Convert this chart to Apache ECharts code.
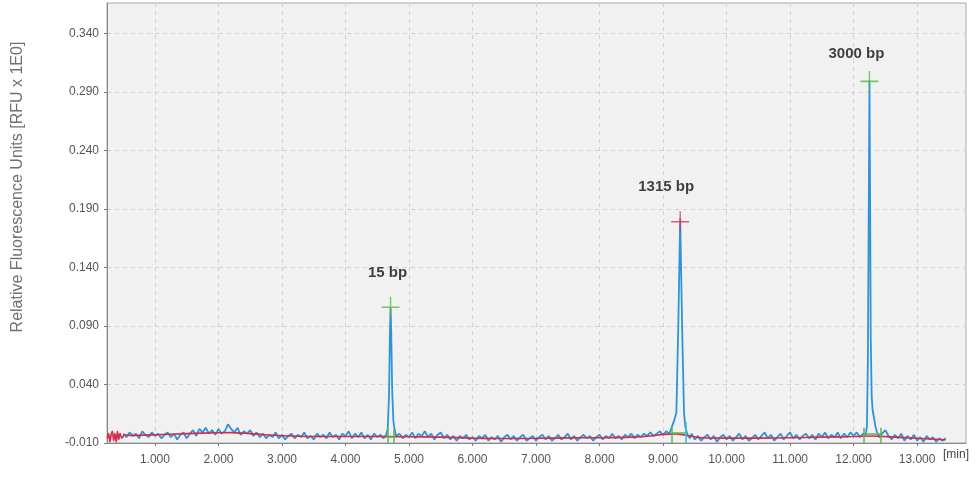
<!DOCTYPE html>
<html><head><meta charset="utf-8">
<script src="https://cdn.jsdelivr.net/npm/echarts@6/dist/echarts.min.js"></script>
<style>html,body{margin:0;padding:0;background:#fff}#c{width:979px;height:478px}</style>
</head><body><div id="c"></div>
<script>
// ---- data ----
const xTickValues = [1,2,3,4,5,6,7,8,9,10,11,12,13];
const yTickValues = [-0.010,0.040,0.090,0.140,0.190,0.240,0.290,0.340];
const xRange = [0.245, 13.77];
const yRange = [-0.010, 0.366];

// raw electropherogram trace [time min, RFU]
const blueTrace = [
[0.50,-0.002],[0.55,-0.005],[0.60,-0.001],[0.65,-0.004],[0.70,-0.002],[0.75,-0.006],[0.80,0.000],[0.85,-0.003],[0.90,-0.005],[0.95,-0.001],
[1.00,-0.004],[1.05,-0.002],[1.10,-0.006],[1.15,-0.003],[1.20,-0.001],[1.25,-0.005],[1.30,-0.002],[1.35,-0.007],[1.40,-0.003],[1.45,-0.001],
[1.50,-0.006],[1.55,-0.002],[1.60,0.001],[1.65,-0.004],[1.70,0.002],[1.75,-0.001],[1.80,0.003],[1.85,-0.002],[1.90,0.001],[1.95,-0.003],
[2.00,0.002],[2.05,-0.002],[2.10,0.000],[2.15,0.006],[2.20,0.002],[2.25,-0.001],[2.30,0.003],[2.35,-0.003],[2.40,0.000],[2.45,-0.002],
[2.50,0.001],[2.55,-0.004],[2.60,-0.001],[2.65,-0.005],[2.70,-0.002],[2.75,-0.006],[2.80,-0.003],[2.85,-0.005],[2.90,-0.001],[2.95,-0.006],
[3.00,-0.003],[3.05,-0.007],[3.10,-0.004],[3.15,-0.002],[3.20,-0.006],[3.25,-0.003],[3.30,-0.005],[3.35,-0.001],[3.40,-0.006],[3.45,-0.004],
[3.50,-0.007],[3.55,-0.002],[3.60,-0.005],[3.65,-0.003],[3.70,-0.006],[3.75,-0.001],[3.80,-0.005],[3.85,-0.003],[3.90,-0.007],[3.95,-0.002],
[4.00,-0.004],[4.05,0.000],[4.10,-0.006],[4.15,-0.002],[4.20,-0.005],[4.25,-0.001],[4.30,-0.006],[4.35,-0.003],[4.40,-0.007],[4.45,-0.002],
[4.50,-0.005],[4.55,-0.003],[4.60,-0.006],[4.64,-0.003],[4.665,0.002],[4.685,0.030],[4.70,0.085],[4.71,0.106],[4.72,0.085],[4.735,0.035],
[4.755,0.008],[4.78,0.000],[4.80,-0.004],[4.85,-0.002],[4.90,-0.006],[4.95,-0.003],
[5.00,-0.005],[5.05,-0.001],[5.10,-0.006],[5.15,-0.002],[5.20,-0.004],[5.25,0.000],[5.30,-0.005],[5.35,-0.002],[5.40,-0.007],[5.45,-0.003],
[5.50,-0.001],[5.55,-0.006],[5.60,-0.003],[5.65,-0.007],[5.70,-0.004],[5.75,-0.008],[5.80,-0.004],[5.85,-0.006],[5.90,-0.003],[5.95,-0.007],
[6.00,-0.005],[6.05,-0.008],[6.10,-0.004],[6.15,-0.006],[6.20,-0.003],[6.25,-0.008],[6.30,-0.005],[6.35,-0.007],[6.40,-0.004],[6.45,-0.009],
[6.50,-0.005],[6.55,-0.003],[6.60,-0.007],[6.65,-0.004],[6.70,-0.008],[6.75,-0.005],[6.80,-0.003],[6.85,-0.008],[6.90,-0.006],[6.95,-0.004],
[7.00,-0.008],[7.05,-0.005],[7.10,-0.003],[7.15,-0.007],[7.20,-0.004],[7.25,-0.008],[7.30,-0.006],[7.35,-0.003],[7.40,-0.007],[7.45,-0.005],
[7.50,-0.002],[7.55,-0.007],[7.60,-0.004],[7.65,-0.008],[7.70,-0.005],[7.75,-0.003],[7.80,-0.006],[7.85,-0.004],[7.90,-0.008],[7.95,-0.005],
[8.00,-0.003],[8.05,-0.007],[8.10,-0.004],[8.15,-0.006],[8.20,-0.002],[8.25,-0.006],[8.30,-0.004],[8.35,-0.007],[8.40,-0.003],[8.45,-0.005],
[8.50,-0.002],[8.55,-0.006],[8.60,-0.003],[8.65,-0.005],[8.70,-0.002],[8.75,-0.004],[8.80,-0.001],[8.85,-0.004],[8.90,-0.002],[8.95,0.000],
[9.00,-0.003],[9.05,0.000],[9.10,-0.002],[9.14,0.004],[9.18,0.010],[9.21,0.016],[9.24,0.090],[9.27,0.182],[9.30,0.090],[9.33,0.016],
[9.35,0.004],[9.38,-0.002],[9.42,-0.006],[9.45,-0.002],
[9.50,-0.007],[9.55,-0.004],[9.60,-0.008],[9.65,-0.005],[9.70,-0.003],[9.75,-0.007],[9.80,-0.004],[9.85,-0.009],[9.90,-0.005],[9.95,-0.003],
[10.00,-0.007],[10.05,-0.004],[10.10,-0.008],[10.15,-0.005],[10.20,-0.002],[10.25,-0.007],[10.30,-0.004],[10.35,-0.008],[10.40,-0.006],[10.45,-0.003],
[10.50,-0.007],[10.55,-0.004],[10.60,-0.001],[10.65,-0.006],[10.70,-0.003],[10.75,-0.008],[10.80,-0.005],[10.85,-0.002],[10.90,-0.007],[10.95,-0.004],
[11.00,-0.001],[11.05,-0.006],[11.10,-0.003],[11.15,-0.007],[11.20,-0.004],[11.25,-0.002],[11.30,-0.006],[11.35,-0.003],[11.40,-0.007],[11.45,-0.002],
[11.50,-0.005],[11.55,-0.001],[11.60,-0.006],[11.65,-0.003],[11.70,-0.005],[11.75,-0.001],[11.80,-0.006],[11.85,-0.002],[11.90,-0.005],[11.95,-0.001],
[12.00,-0.004],[12.05,-0.001],[12.10,-0.005],[12.15,-0.002],[12.19,-0.003],[12.21,0.004],[12.225,0.060],[12.24,0.200],[12.25,0.300],[12.26,0.200],
[12.27,0.080],[12.285,0.030],[12.30,0.018],[12.32,0.012],[12.345,0.004],[12.37,-0.001],[12.40,-0.005],[12.45,-0.002],
[12.50,0.001],[12.55,-0.004],[12.60,-0.007],[12.65,-0.003],[12.70,-0.006],[12.75,-0.002],[12.80,-0.008],[12.85,-0.004],[12.90,-0.007],[12.95,-0.003],
[13.00,-0.008],[13.05,-0.005],[13.10,-0.009],[13.15,-0.004],[13.20,-0.007],[13.25,-0.005],[13.30,-0.009],[13.35,-0.006],[13.40,-0.008],[13.45,-0.006]
];

// fitted baseline [time min, RFU]
const redBaseline = [
[0.25,-0.006],[0.27,-0.002],[0.29,-0.009],[0.31,-0.003],[0.33,0.000],[0.35,-0.008],[0.37,-0.002],[0.39,-0.009],[0.41,0.000],[0.43,-0.007],
[0.45,-0.002],[0.48,-0.006],[0.52,-0.003],[0.60,-0.0035],[1.0,-0.003],[1.5,-0.002],[2.0,-0.0012],[2.2,-0.0011],[2.5,-0.002],[3.0,-0.0038],[3.5,-0.0045],
[4.0,-0.0045],[4.5,-0.0045],[5.0,-0.0046],[5.5,-0.005],[6.0,-0.0058],[6.5,-0.0062],[7.0,-0.006],[7.5,-0.0056],[8.0,-0.0055],[8.5,-0.005],
[8.8,-0.004],[9.0,-0.0026],[9.2,-0.0022],[9.4,-0.0038],[9.6,-0.0055],[10.0,-0.0058],[10.5,-0.0058],[11.0,-0.0055],[11.5,-0.005],[12.0,-0.0045],
[12.3,-0.004],[12.6,-0.0048],[13.0,-0.006],[13.45,-0.0072]
];

// detected peaks
const peakNames = ['15 bp','1315 bp','3000 bp'];
const peakTimes = [4.71, 9.27, 12.25];
const peakHeights = [0.106, 0.179, 0.299];
const peakFlagged = [false, true, false];

// peak integration boundaries [start, end] and baseline level
const peakStart = [4.67, 9.14, 12.16];
const peakEnd = [4.76, 9.36, 12.43];
const peakBaseLevel = [-0.0045, -0.0015, -0.0022];
const boundaryTop = [0.002, 0.004, 0.003];

// ---- chart ----
const FONT = "'Liberation Sans', Arial, sans-serif";
const chart = echarts.init(document.getElementById('c'), null, {renderer:'canvas'});

const greenC = '#5bb64f', redMarkC = '#d9345c', cyanC = '#2cc4cf';
const labelOffsets = [[-3,-34],[-14,-35],[-13,-28]];

const boundaryLines = [];
peakStart.forEach((s,i)=>{
  const e = peakEnd[i];
  boundaryLines.push([{coord:[s,yRange[0]]},{coord:[s,boundaryTop[i]]}]);
  boundaryLines.push([{coord:[e,yRange[0]]},{coord:[e,boundaryTop[i]+(i===1?0.004:0)], lineStyle: i===1?{color:cyanC}:undefined}]);
  boundaryLines.push([{coord:[s,peakBaseLevel[i]]},{coord:[e,peakBaseLevel[i]]}]);
});

chart.setOption({
  animation:false,
  backgroundColor:'#ffffff',
  grid:{left:107, top:3, right:13, bottom:35, show:true, backgroundColor:'#f1f1f1', borderColor:'#a9a9a9', borderWidth:1},
  xAxis:{
    type:'value', min:xRange[0], max:xRange[1],
    axisLine:{show:true, onZero:false, lineStyle:{color:'#8a8a8a'}},
    axisTick:{show:true, length:3, customValues:xTickValues, lineStyle:{color:'#777'}},
    axisLabel:{customValues:xTickValues, formatter:v=>v.toFixed(3), color:'#555', fontSize:12, fontFamily:FONT, margin:11},
    splitLine:{show:true, lineStyle:{color:'#d2d2d2', type:[4,4], width:1}}
  },
  yAxis:{
    type:'value', min:yRange[0], max:yRange[1],
    axisLine:{show:true, onZero:false, lineStyle:{color:'#8a8a8a'}},
    axisTick:{show:true, length:3, customValues:yTickValues, lineStyle:{color:'#777'}},
    axisLabel:{customValues:yTickValues, formatter:v=>v.toFixed(3), color:'#555', fontSize:12, fontFamily:FONT, margin:8},
    splitLine:{show:true, lineStyle:{color:'#d2d2d2', type:[4,4], width:1}}
  },
  graphic:[
    {type:'text', x:18, y:187, rotation:Math.PI/2, style:{text:'Relative Fluorescence Units [RFU x 1E0]', fontSize:16, fontFamily:FONT, fill:'#707070', align:'center', verticalAlign:'middle'}},
    {type:'text', x:943, y:449, style:{text:'[min]', fontSize:12, fontFamily:FONT, fill:'#444', align:'left', verticalAlign:'top'}}
  ],
  series:[
    {type:'line', data:blueTrace, showSymbol:false, symbol:'none', lineStyle:{color:'#2f93da', width:1.8}, z:2,
      markLine:{silent:true, symbol:'none', label:{show:false}, lineStyle:{color:greenC, width:1.5, type:'solid'}, data:boundaryLines}},
    {type:'line', data:redBaseline, showSymbol:false, symbol:'none', smooth:0.3, lineStyle:{color:'#d22e48', width:1.6}, z:3},
    {type:'scatter', z:5,
      symbol:'path://M0,9.25H20V10.75H0Z M9.25,0H10.75V20H9.25Z', symbolSize:[18,21], symbolKeepAspect:false,
      data: peakTimes.map((t,i)=>({
        value:[t, peakHeights[i]],
        itemStyle:{color: peakFlagged[i] ? redMarkC : greenC},
        label:{show:true, position:'inside', offset:labelOffsets[i], formatter:peakNames[i],
               fontSize:15, fontWeight:'bold', fontFamily:FONT, color:'#111'}
      }))
    }
  ]
});
</script></body></html>
